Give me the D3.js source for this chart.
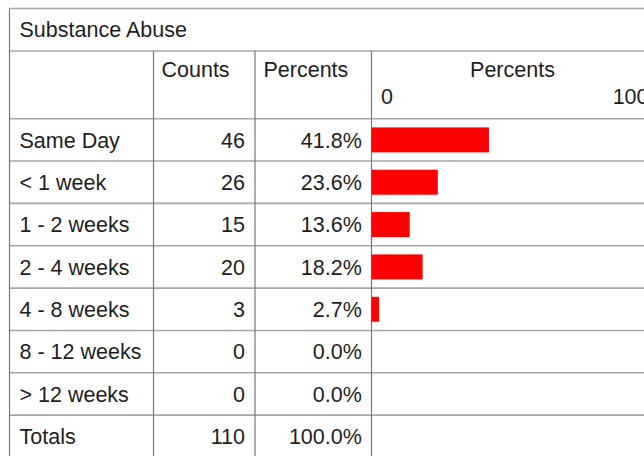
<!DOCTYPE html>
<html>
<head>
<meta charset="utf-8">
<script src="https://cdn.jsdelivr.net/npm/d3@7"></script>
<style>
  html, body { margin: 0; padding: 0; background: #fff; }
  svg { display: block; }
  text { font-family: "Liberation Sans", Arial, sans-serif; fill: #1e1e1e; }
</style>
</head>
<body>
<svg id="chart" width="644" height="456"></svg>
<script>
// ---- data ----
const title = "Substance Abuse";
const categories = ["Same Day", "< 1 week", "1 - 2 weeks", "2 - 4 weeks", "4 - 8 weeks", "8 - 12 weeks", "> 12 weeks"];
const counts = [46, 26, 15, 20, 3, 0, 0];
const percents = [41.8, 23.6, 13.6, 18.2, 2.7, 0.0, 0.0];
const totalLabel = "Totals";
const totalCount = 110;
const totalPercent = 100.0;
const headers = ["", "Counts", "Percents", "Percents"];
const axisTicks = [0, 100];

(function () {
// ---- layout ----
const svg = d3.select("#chart");
const W = 644, H = 456;
const tLeft = 9.5, tTop = 8.5;
const titleBottom = 51;
const headerBottom = 118.7;
const rowH = 42.35;
const colX = [tLeft, 153.5, 255, 371.5];
const rightEdge = 700;
const fontSize = 21.5;

const nRows = categories.length + 1;
const rowY = d3.scaleLinear().domain([0, nRows]).range([headerBottom, headerBottom + rowH * nRows]);
const x = d3.scaleLinear().domain([0, 100]).range([colX[3], colX[3] + 281]);

const hColor = "#a6a6a6", vColor = "#777";

// horizontal lines
const hLines = [tTop, titleBottom, headerBottom].concat(d3.range(1, nRows + 1).map(i => rowY(i)));
svg.append("g").selectAll("line").data(hLines).join("line")
  .attr("x1", tLeft).attr("x2", rightEdge)
  .attr("y1", d => d).attr("y2", d => d)
  .attr("stroke", hColor).attr("stroke-width", 1.6);

// vertical lines
svg.append("line").attr("x1", tLeft).attr("x2", tLeft).attr("y1", tTop).attr("y2", H + 5)
  .attr("stroke", vColor).attr("stroke-width", 1.2);
svg.append("g").selectAll("line").data(colX.slice(1)).join("line")
  .attr("x1", d => d).attr("x2", d => d)
  .attr("y1", titleBottom).attr("y2", H + 5)
  .attr("stroke", vColor).attr("stroke-width", 1.2);

// title
svg.append("text").attr("x", 19.5).attr("y", 36.8).attr("font-size", fontSize).text(title);

// headers
svg.append("text").attr("x", 161.5).attr("y", 77).attr("font-size", fontSize).text(headers[1]);
svg.append("text").attr("x", 263.5).attr("y", 77).attr("font-size", fontSize).text(headers[2]);
svg.append("text").attr("x", 512.5).attr("y", 77).attr("font-size", fontSize)
  .attr("text-anchor", "middle").text(headers[3]);

// axis tick labels
svg.append("g").selectAll("text").data(axisTicks).join("text")
  .attr("x", d => d === 0 ? x(d) + 9.5 : x(d) - 4)
  .attr("y", 103.5)
  .attr("font-size", fontSize)
  .attr("text-anchor", d => d === 0 ? "start" : "end")
  .text(d => d);

// rows
const rows = categories.map((c, i) => ({label: c, count: counts[i], pct: percents[i], i}));
rows.push({label: totalLabel, count: totalCount, pct: totalPercent, i: categories.length, total: true});

const g = svg.append("g");
g.selectAll("text.lab").data(rows).join("text").attr("class", "lab")
  .attr("x", 19.5).attr("y", d => rowY(d.i) + rowH / 2 + 7.7)
  .attr("font-size", fontSize).text(d => d.label);
g.selectAll("text.cnt").data(rows).join("text").attr("class", "cnt")
  .attr("x", 245).attr("y", d => rowY(d.i) + rowH / 2 + 7.7)
  .attr("font-size", fontSize).attr("text-anchor", "end").text(d => d.count);
g.selectAll("text.pct").data(rows).join("text").attr("class", "pct")
  .attr("x", 361.8).attr("y", d => rowY(d.i) + rowH / 2 + 7.7)
  .attr("font-size", fontSize).attr("text-anchor", "end").text(d => d.pct.toFixed(1) + "%");

// bars
const barH = 25;
g.selectAll("rect.bar").data(rows.filter(d => !d.total && d.pct > 0)).join("rect").attr("class", "bar")
  .attr("x", x(0))
  .attr("y", d => rowY(d.i) + (rowH - barH) / 2)
  .attr("width", d => x(d.pct) - x(0))
  .attr("height", barH)
  .attr("fill", "#ff0000");
})();
</script>
</body>
</html>
